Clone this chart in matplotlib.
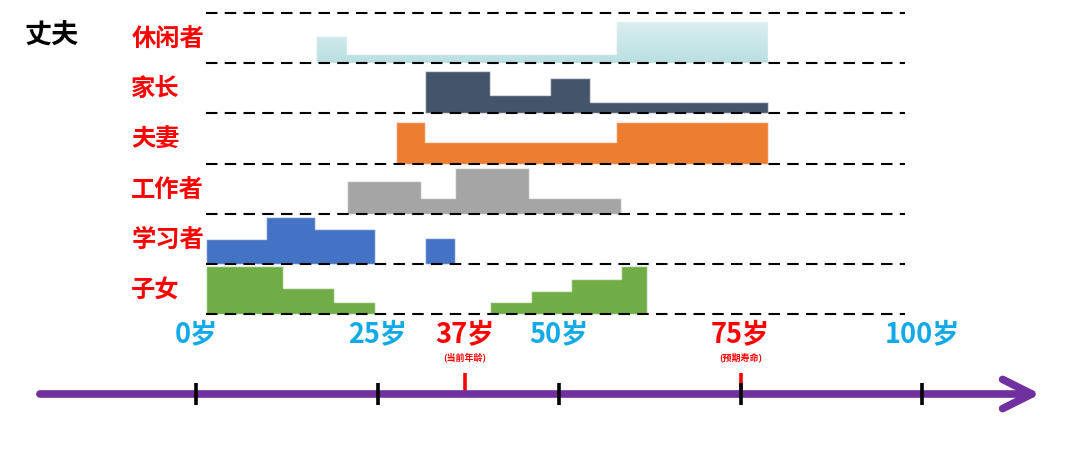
import numpy as np
import matplotlib.pyplot as plt
from matplotlib.colors import LinearSegmentedColormap

plt.rcParams['font.family'] = ['Noto Sans CJK SC', 'DejaVu Sans']

# 角色（从上到下）
roles = ['休闲者', '家长', '夫妻', '工作者', '学习者', '子女']
role_colors = ['#CFE9EB', '#44546A', '#ED7D31', '#A5A5A5', '#4472C4', '#70AD47']

# 各角色分段：边界（横向 0-100）和高度（占一行的比例）
leisure_x = [15.7, 20.2, 58.7, 80.4]
leisure_h = [0.55, 0.18, 0.85]
parent_x = [31.3, 40.6, 49.2, 54.9, 80.4]
parent_h = [0.85, 0.37, 0.70, 0.22]
spouse_x = [27.2, 31.3, 58.7, 80.4]
spouse_h = [0.83, 0.43, 0.83]
worker_x = [20.2, 30.8, 35.6, 46.2, 59.4]
worker_h = [0.66, 0.32, 0.92, 0.32]
student_x = [0, 8.6, 15.6, 24.2, 31.3, 35.6]
student_h = [0.50, 0.93, 0.69, 0, 0.51]
child_x = [0, 11.0, 18.3, 24.2, 40.6, 46.5, 52.2, 59.4, 63.1]
child_h = [0.96, 0.52, 0.24, 0, 0.24, 0.45, 0.69, 0.95]

# 时间轴
label_ages = [0, 25, 37, 50, 75, 100]
label_colors = ['#12A9E8', '#12A9E8', 'red', '#12A9E8', 'red', '#12A9E8']
tick_ages = [0, 25, 50, 75, 100]
mark_ages = [37, 75]
mark_notes = ['(当前年龄)', '(预期寿命)']

W, H = 1080, 450
fig = plt.figure(figsize=(W / 100, H / 100), dpi=100)

# 底层：时间轴（x 为年龄，y 为像素）
ax_t = fig.add_axes([0, 0, 1, 1])
ax_t.set_xlim(-196 / 7.26, (W - 196) / 7.26)
ax_t.set_ylim(H, 0)
ax_t.axis('off')

ax_t.vlines(mark_ages, 373, 391, colors='red', lw=2.6, zorder=1)
ax_t.annotate('', xy=(116.3, 394), xytext=(-21.5, 394),
              arrowprops=dict(arrowstyle='->,head_length=2.1,head_width=1.05',
                              color='#7030A0', lw=5.5, shrinkA=0, shrinkB=0),
              zorder=2)
ax_t.vlines(tick_ages, 383, 405, colors='black', lw=2.6, zorder=3)

for age, c in zip(label_ages, label_colors):
    ax_t.text(age, 334, '%d岁' % age, color=c, fontsize=19.5, weight='bold',
              ha='center', va='center')
for age, note in zip(mark_ages, mark_notes):
    ax_t.text(age, 357, note, color='red', fontsize=6.5, weight='bold',
              ha='center', va='center')

fig.text(25 / W, 1 - 36 / H, '丈夫', fontsize=19.5, weight='bold', va='center')

# 上层：角色阶梯图
ax = fig.add_axes([206 / W, 1 - 314 / H, 699 / W, 301 / H])
series = [(leisure_x, leisure_h), (parent_x, parent_h), (spouse_x, spouse_h),
          (worker_x, worker_h), (student_x, student_h), (child_x, child_h)]

for i, (role, (xs, hs), c) in enumerate(zip(roles, series, role_colors)):
    base = len(roles) - 1 - i
    top = np.array(hs + [hs[-1]]) + base
    if i == 0:
        # 休闲者：浅青色渐变
        poly = ax.fill_between(xs, base, top, step='post', facecolor='none',
                               edgecolor=(1, 1, 1, 0.7), lw=1, zorder=2)
        cmap = LinearSegmentedColormap.from_list('g', ['#BADFE1', '#E3F2F3'])
        grad = np.linspace(0, 1, 100).reshape(-1, 1)
        im = ax.imshow(grad, extent=[xs[0], xs[-1], base, base + 1], cmap=cmap,
                       origin='lower', aspect='auto', zorder=1.9)
        im.set_clip_path(poly.get_paths()[0], ax.transData)
    else:
        ax.fill_between(xs, base, top, step='post', facecolor=c,
                        edgecolor=(1, 1, 1, 0.6), lw=1, zorder=2)
    ax.text(-10.7, base + 0.47, role, color='red', fontsize=17.5, weight='bold',
            ha='left', va='center')

ax.hlines(range(len(roles) + 1), 0, 100, colors='black',
          linestyles=(0, (5.5, 3.5)), lw=1.5, zorder=3, clip_on=False)
ax.set_xlim(0, 100)
ax.set_ylim(0, 6)
ax.axis('off')

fig.savefig('out.png', dpi=100)
